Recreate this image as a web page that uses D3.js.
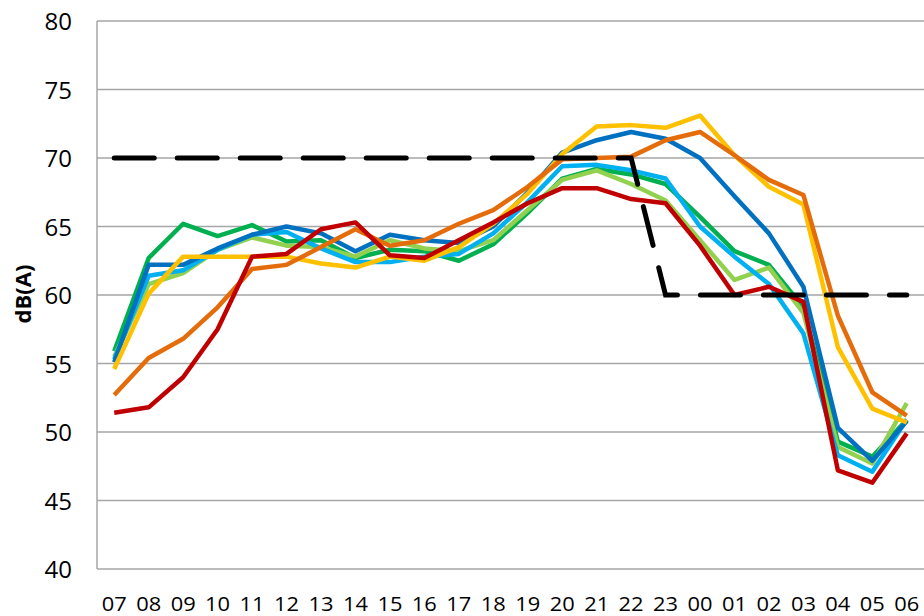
<!DOCTYPE html>
<html>
<head>
<meta charset="utf-8">
<script src="https://cdn.jsdelivr.net/npm/d3@7"></script>
<style>
  body { margin: 0; background: #fff; }
  svg text { font-family: "Open Sans", "Liberation Sans", sans-serif; fill: #000; }
</style>
</head>
<body>
<div id="chart"></div>
<script>
let hours = ['07','08','09','10','11','12','13','14','15','16','17','18','19','20','21','22','23','00','01','02','03','04','05','06']
let yTicks = [40, 45, 50, 55, 60, 65, 70, 75, 80]

// one array per measuring point, dB(A) by hour
let green      = [55.9, 62.7, 65.2, 64.3, 65.1, 63.9, 64.0, 62.7, 63.3, 63.2, 62.5, 63.7, 66.0, 68.5, 69.2, 68.8, 68.1, 65.7, 63.2, 62.2, 59.1, 49.3, 48.2, 50.9]
let lightGreen = [55.5, 60.8, 61.6, 63.3, 64.2, 63.6, 63.5, 62.8, 64.0, 63.4, 63.2, 64.0, 66.2, 68.4, 69.1, 68.1, 66.9, 64.0, 61.1, 62.0, 58.7, 48.9, 47.7, 52.1]
let lightBlue  = [55.3, 61.4, 61.8, 63.3, 64.4, 64.6, 63.4, 62.4, 62.4, 62.8, 63.0, 64.5, 66.8, 69.4, 69.5, 69.1, 68.5, 65.0, 62.8, 60.8, 57.2, 48.3, 47.1, 50.9]
let darkBlue   = [55.1, 62.2, 62.2, 63.4, 64.4, 65.0, 64.5, 63.2, 64.4, 64.0, 63.8, 65.0, 67.5, 70.4, 71.3, 71.9, 71.4, 70.0, 67.2, 64.5, 60.6, 50.3, 47.9, 50.8]
let yellow     = [54.6, 60.1, 62.8, 62.8, 62.8, 62.8, 62.3, 62.0, 62.8, 62.5, 63.5, 65.2, 67.4, 70.3, 72.3, 72.4, 72.2, 73.1, 70.2, 67.9, 66.6, 56.2, 51.7, 50.7]
let orange     = [52.7, 55.4, 56.8, 59.1, 61.9, 62.2, 63.5, 64.8, 63.6, 64.0, 65.2, 66.2, 67.9, 69.9, 70.0, 70.1, 71.3, 71.9, 70.2, 68.4, 67.3, 58.5, 52.9, 51.2]
let red        = [51.4, 51.8, 54.0, 57.5, 62.8, 63.0, 64.8, 65.3, 62.9, 62.7, 64.0, 65.3, 66.7, 67.8, 67.8, 67.0, 66.7, 63.6, 60.0, 60.6, 59.5, 47.2, 46.3, 49.9]
// limit: 70 by day, 60 by night
let limit      = [70, 70, 70, 70, 70, 70, 70, 70, 70, 70, 70, 70, 70, 70, 70, 70, 60, 60, 60, 60, 60, 60, 60, 60]

let seriesList = [
    {values: green, color: '#00B050'},
    {values: lightGreen, color: '#92D050'},
    {values: lightBlue, color: '#00B0F0'},
    {values: darkBlue, color: '#0070C0'},
    {values: yellow, color: '#FFC000'},
    {values: orange, color: '#E46C0A'},
    {values: red, color: '#C00000'}
]

let W = 924, H = 616
let margin = {top: 21, right: 0, bottom: 47, left: 97}

let svg = d3.select('#chart').append('svg')
    .attr('width', W)
    .attr('height', H)

let x = d3.scalePoint()
    .domain(hours)
    .range([margin.left, W - margin.right])
    .padding(0.5)

let y = d3.scaleLinear()
    .domain([40, 80])
    .range([H - margin.bottom, margin.top])

// gridlines
svg.append('g')
    .selectAll('line')
    .data(yTicks)
    .enter()
    .append('line')
    .attr('x1', margin.left)
    .attr('x2', W - margin.right)
    .attr('y1', d => y(d))
    .attr('y2', d => y(d))
    .style('stroke', '#a6a6a6')
    .style('stroke-width', 1.5)

// left axis line
svg.append('line')
    .attr('x1', margin.left).attr('x2', margin.left)
    .attr('y1', y(80)).attr('y2', y(40))
    .style('stroke', '#a6a6a6')
    .style('stroke-width', 1.5)

// y tick labels
svg.append('g')
    .selectAll('text')
    .data(yTicks)
    .enter()
    .append('text')
    .attr('x', 72)
    .attr('y', d => y(d) + 9)
    .attr('text-anchor', 'end')
    .style('font-size', '24px')
    .text(d => d)

// x tick labels
svg.append('g')
    .selectAll('text')
    .data(hours)
    .enter()
    .append('text')
    .attr('x', d => x(d))
    .attr('y', 611)
    .attr('text-anchor', 'middle')
    .style('font-size', '20px')
    .attr('textLength', 25)
    .attr('lengthAdjust', 'spacingAndGlyphs')
    .text(d => d)

// axis title
svg.append('text')
    .attr('transform', 'translate(31,' + (y(60) - 1) + ') rotate(-90)')
    .attr('text-anchor', 'middle')
    .style('font-size', '22px')
    .style('font-weight', 'bold')
    .text('dB(A)')

let line = d3.line()
    .x((d, i) => x(hours[i]))
    .y(d => y(d))

svg.append('g')
    .selectAll('path')
    .data(seriesList)
    .enter()
    .append('path')
    .attr('d', d => line(d.values))
    .style('fill', 'none')
    .style('stroke', d => d.color)
    .style('stroke-width', 4.5)
    .style('stroke-linejoin', 'round')

svg.append('path')
    .attr('d', line(limit))
    .style('fill', 'none')
    .style('stroke', '#000')
    .style('stroke-width', 5)
    .style('stroke-linecap', 'round')
    .style('stroke-dasharray', '40,23')
</script>
</body>
</html>
